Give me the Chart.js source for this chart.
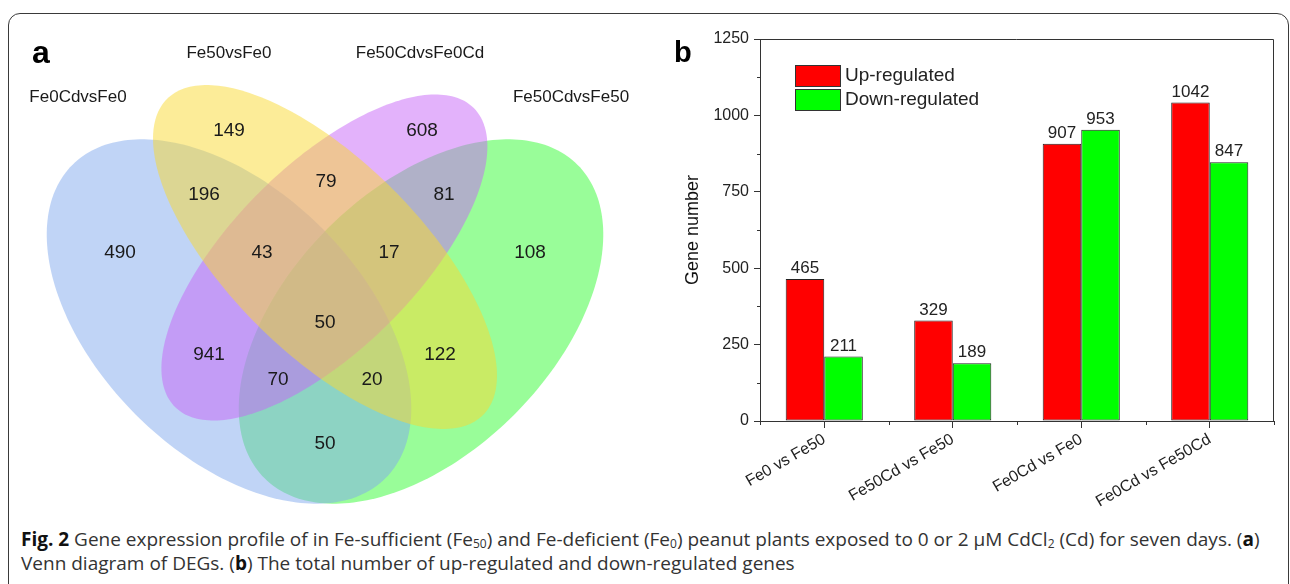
<!DOCTYPE html>
<html>
<head>
<meta charset="utf-8">
<title>Fig. 2</title>
<script src="https://cdn.jsdelivr.net/npm/chart.js@4.4.1/dist/chart.umd.min.js"></script>
<style>
html, body { margin: 0; padding: 0; background: #fff; overflow: hidden; }
#wrap { position: relative; width: 1290px; height: 584px; overflow: hidden; }
#frame { position: absolute; left: 8px; top: 13px; width: 1281px; height: 700px; border: 1.5px solid #3a3a3a; border-radius: 12px; box-sizing: border-box; }
#venn { position: absolute; left: 0; top: 0; }
#bars { position: absolute; left: 650px; top: 0; }
.panel { position: absolute; font-family: "Liberation Sans", Arial, sans-serif; font-weight: bold; color: #000; line-height: 1; }
#caption { position: absolute; left: 21px; top: 527px; font-family: "Open Sans", sans-serif; font-size: 19px; line-height: 24px; color: #333; white-space: nowrap; }
#caption b { color: #111; }
#caption sub { font-size: 12px; vertical-align: -2px; line-height: 0; }
</style>
</head>
<body>
<div id="wrap">
  <div id="frame"></div>
  <canvas id="venn" width="650" height="520"></canvas>
  <canvas id="bars" width="640" height="520"></canvas>
  <div class="panel" style="left:32px;top:36px;font-size:32px;">a</div>
  <div class="panel" style="left:674px;top:38px;font-size:29px;">b</div>
  <div id="caption"><b>Fig. 2</b> Gene expression profile of in Fe-sufficient (Fe<sub>50</sub>) and Fe-deficient (Fe<sub>0</sub>) peanut plants exposed to 0 or 2 μM CdCl<sub>2</sub> (Cd) for seven days. (<b>a</b>)<br>Venn diagram of DEGs. (<b>b</b>) The total number of up-regulated and down-regulated genes</div>
</div>
<script>
// ---- panel a : Venn diagram ----
var vennNames = ['Fe0CdvsFe0', 'Fe50vsFe0', 'Fe50CdvsFe0Cd', 'Fe50CdvsFe50'];
var vennCounts = [490, 149, 608, 108, 196, 79, 81, 43, 17, 50, 941, 122, 70, 20, 50];

// layout of the diagram (chart units)
var vennEllipses = [
  [229, 321.5, 221.5, 131.8, 45],
  [325, 257, 223.5, 95.9, 45],
  [324.4, 257.5, 211.3, 92.1, -45],
  [421, 321.5, 221.5, 131.8, -45]
];
var vennColors = ['rgb(129,169,237)', 'rgb(249,217,49)', 'rgb(199,101,247)', 'rgb(51,251,51)'];
var vennDrawOrder = [3, 0, 2, 1];
var vennNamePos = [[78, 97], [229, 53], [420, 53], [571, 97]];
var vennCountPos = [[120, 253], [229, 131], [422, 131], [530, 253], [204, 195], [326, 182], [444, 195],
  [262, 253], [389, 253], [325, 323], [209, 355], [440, 355], [278, 380], [372, 380], [325, 444]];

// ---- panel b : bar chart ----
var categories = ['Fe0 vs Fe50', 'Fe50Cd vs Fe50', 'Fe0Cd vs Fe0', 'Fe0Cd vs Fe50Cd'];
var upRegulated = [465, 329, 907, 1042];
var downRegulated = [211, 189, 953, 847];
var yTicks = [0, 250, 500, 750, 1000, 1250];

var sans = '"Liberation Sans", Arial, sans-serif';
Chart.defaults.font.family = sans;
Chart.defaults.color = '#222';

var ellipsePlugin = {
  id: 'ellipses',
  beforeDatasetsDraw: function(chart) {
    var ctx = chart.ctx, xs = chart.scales.x, ys = chart.scales.y;
    ctx.save();
    ctx.globalAlpha = 0.5;
    vennDrawOrder.forEach(function(i) {
      var e = vennEllipses[i];
      var t = e[4] * Math.PI / 180;
      ctx.beginPath();
      for (var k = 0; k <= 240; k++) {
        var p = k / 240 * 2 * Math.PI;
        var u = e[2] * Math.cos(p), v = e[3] * Math.sin(p);
        var px = xs.getPixelForValue(e[0] + u * Math.cos(t) - v * Math.sin(t));
        var py = ys.getPixelForValue(e[1] + u * Math.sin(t) + v * Math.cos(t));
        if (k) ctx.lineTo(px, py); else ctx.moveTo(px, py);
      }
      ctx.closePath();
      ctx.fillStyle = vennColors[i];
      ctx.fill();
    });
    ctx.restore();
  }
};

var vennTextPlugin = {
  id: 'vennText',
  afterDatasetsDraw: function(chart) {
    var ctx = chart.ctx;
    ctx.save();
    ctx.textAlign = 'center';
    ctx.textBaseline = 'middle';
    chart.data.datasets.forEach(function(ds, di) {
      ctx.font = (di === 0 ? '19px ' : '17px ') + sans;
      ctx.fillStyle = '#1a1a1a';
      chart.getDatasetMeta(di).data.forEach(function(el, i) {
        ctx.fillText(ds.data[i].t, el.x, el.y);
      });
    });
    ctx.restore();
  }
};

new Chart(document.getElementById('venn'), {
  type: 'scatter',
  data: {
    datasets: [
      { data: vennCounts.map(function(c, i) { return { x: vennCountPos[i][0], y: vennCountPos[i][1], t: String(c) }; }), pointRadius: 0 },
      { data: vennNames.map(function(n, i) { return { x: vennNamePos[i][0], y: vennNamePos[i][1], t: n }; }), pointRadius: 0 }
    ]
  },
  options: {
    responsive: false,
    animation: false,
    layout: { padding: 0 },
    plugins: { legend: { display: false }, tooltip: { enabled: false } },
    scales: {
      x: { type: 'linear', min: 0, max: 650, display: false },
      y: { type: 'linear', min: 0, max: 520, reverse: true, display: false }
    }
  },
  plugins: [ellipsePlugin, vennTextPlugin]
});

var boxPlugin = {
  id: 'box',
  afterDraw: function(chart) {
    var ctx = chart.ctx, a = chart.chartArea, xs = chart.scales.x, ys = chart.scales.y;
    ctx.save();
    ctx.strokeStyle = '#333';
    ctx.lineWidth = 1;
    ctx.beginPath();
    ctx.moveTo(a.left, a.top + 0.5); ctx.lineTo(a.right - 0.5, a.top + 0.5); ctx.lineTo(a.right - 0.5, a.bottom);
    // minor ticks
    for (var i = 0; i < yTicks.length - 1; i++) {
      var py = Math.round(ys.getPixelForValue((yTicks[i] + yTicks[i + 1]) / 2)) + 0.5;
      ctx.moveTo(a.left - 3, py); ctx.lineTo(a.left, py);
    }
    var half = (xs.getPixelForValue(1) - xs.getPixelForValue(0)) / 2;
    for (var j = 0; j <= categories.length; j++) {
      var px = Math.round(xs.getPixelForValue(0) - half + j * 2 * half) + 0.5;
      ctx.moveTo(px, a.bottom); ctx.lineTo(px, a.bottom + 4);
    }
    ctx.stroke();
    ctx.restore();
  }
};

var valuePlugin = {
  id: 'values',
  afterDatasetsDraw: function(chart) {
    var ctx = chart.ctx;
    ctx.save();
    ctx.font = '17px ' + sans;
    ctx.fillStyle = '#222';
    ctx.textAlign = 'center';
    ctx.textBaseline = 'bottom';
    chart.data.datasets.forEach(function(ds, di) {
      chart.getDatasetMeta(di).data.forEach(function(bar, i) {
        ctx.fillText(String(ds.data[i]), bar.x, bar.y - 2);
      });
    });
    ctx.restore();
  }
};

var legendPlugin = {
  id: 'boxLegend',
  afterDraw: function(chart) {
    var ctx = chart.ctx, a = chart.chartArea;
    ctx.save();
    chart.data.datasets.forEach(function(ds, i) {
      var x0 = a.left + 35, y0 = a.top + 26 + i * 24;
      ctx.fillStyle = ds.backgroundColor;
      ctx.fillRect(x0, y0, 45, 21);
      ctx.strokeStyle = '#333';
      ctx.lineWidth = 1;
      ctx.strokeRect(x0 + 0.5, y0 + 0.5, 45, 21);
      ctx.fillStyle = '#222';
      ctx.font = '19px ' + sans;
      ctx.textBaseline = 'middle';
      ctx.fillText(ds.label, x0 + 50, y0 + 11);
    });
    ctx.restore();
  }
};

new Chart(document.getElementById('bars'), {
  type: 'bar',
  data: {
    labels: categories,
    datasets: [
      { label: 'Up-regulated', data: upRegulated, backgroundColor: '#ff0000', borderColor: '#222', borderWidth: 1, borderSkipped: false, categoryPercentage: 0.6, barPercentage: 1.0 },
      { label: 'Down-regulated', data: downRegulated, backgroundColor: '#00ff00', borderColor: '#222', borderWidth: 1, borderSkipped: false, categoryPercentage: 0.6, barPercentage: 1.0 }
    ]
  },
  options: {
    responsive: false,
    animation: false,
    layout: { padding: { left: 0, right: 16, top: 39, bottom: 0 } },
    plugins: { legend: { display: false }, tooltip: { enabled: false } },
    scales: {
      x: {
        offset: true,
        grid: { offset: false, drawOnChartArea: false, tickLength: 7, tickColor: '#333' },
        border: { color: '#333', width: 1 },
        ticks: { autoSkip: false, maxRotation: 30, minRotation: 30, padding: 2, font: { size: 16 }, color: '#222' },
        afterFit: function(s) { s.height = 99; }
      },
      y: {
        min: 0,
        max: 1250,
        afterBuildTicks: function(s) { s.ticks = yTicks.map(function(v) { return { value: v }; }); },
        grid: { drawOnChartArea: false, tickLength: 6, tickColor: '#333' },
        border: { color: '#333', width: 1 },
        ticks: { padding: 5, font: { size: 16 }, color: '#222', callback: function(v) { return String(v); } },
        title: { display: true, text: 'Gene number', font: { size: 18 }, color: '#111', padding: { top: 32, bottom: 0 } },
        afterFit: function(s) { s.width = 110; }
      }
    }
  },
  plugins: [boxPlugin, valuePlugin, legendPlugin]
});
</script>
</body>
</html>
